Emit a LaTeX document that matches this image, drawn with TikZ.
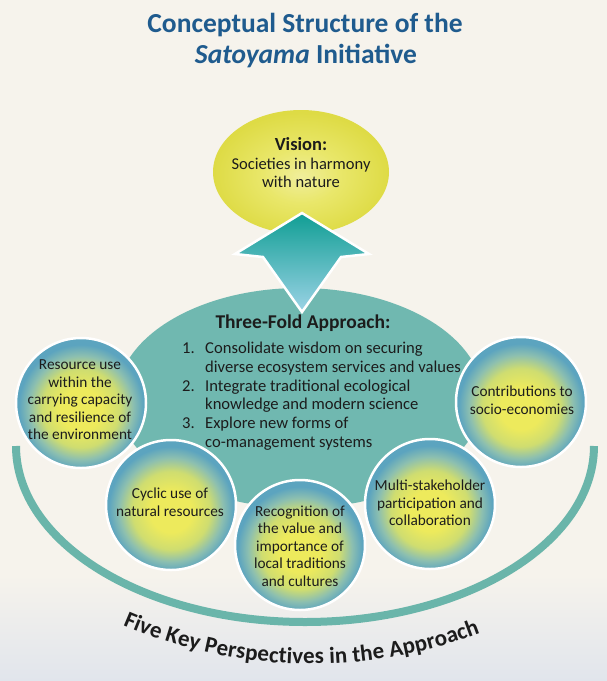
\documentclass[tikz,border=0pt]{standalone}
\usepackage{fontspec}
\setmainfont{Carlito}
\usetikzlibrary{decorations.text,shapes.geometric}

\definecolor{bgbeige}{HTML}{F6F3EC}
\definecolor{bgmid}{HTML}{EEEFF0}
\definecolor{bggray}{HTML}{E1E5EC}
\definecolor{titleblue}{HTML}{1F5B8E}
\definecolor{txt}{HTML}{1C1C1C}
\definecolor{teal}{HTML}{70B8B0}
\definecolor{arcteal}{HTML}{6AB5AA}
\definecolor{arrtop}{HTML}{109E94}
\definecolor{arrbot}{HTML}{9CD3E6}
\definecolor{ballA}{HTML}{EDEA5C}
\definecolor{ballB}{HTML}{CFDD70}
\definecolor{ballC}{HTML}{8CBFB0}
\definecolor{ballD}{HTML}{5CA4BF}
\definecolor{visA}{HTML}{F0EE9C}
\definecolor{visB}{HTML}{E9E76A}
\definecolor{visC}{HTML}{DEDB45}

\pgfdeclareradialshading{ballshade}{\pgfpoint{0bp}{-3bp}}{%
  color(0bp)=(ballA); color(8bp)=(ballA); color(15bp)=(ballB);
  color(20bp)=(ballC); color(24bp)=(ballD); color(25bp)=(ballD); color(50bp)=(ballD)}
\pgfdeclareradialshading{visshade}{\pgfpoint{0bp}{-2bp}}{%
  color(0bp)=(visA); color(11bp)=(visB); color(25bp)=(visC); color(50bp)=(visC)}

\tikzset{
  x=1pt, y=-1pt,
  ball/.style={circle, minimum size=130pt, inner sep=0pt, shading=ballshade,
    draw=white, line width=2.5pt},
  balltext/.style={align=center, text=txt, inner sep=0pt,
    font=\fontsize{15.3}{17.5}\selectfont},
  titletext/.style={anchor=base, text=titleblue, inner sep=0pt,
    font=\fontsize{27.5}{30}\selectfont\bfseries},
  listtext/.style={anchor=base west, text=txt, inner sep=0pt,
    font=\fontsize{16.6}{19}\selectfont},
}

\begin{document}
\begin{tikzpicture}
\useasboundingbox (0,0) rectangle (607,681);
% background
\fill[bgbeige] (0,0) rectangle (607,681);
\shade[top color=bgbeige, middle color=bgmid, bottom color=bggray] (0,575) rectangle (607,681);

% big U arc
\draw[arcteal, line width=8pt] (16,446) arc[start angle=180, end angle=0, x radius=289, y radius=176];

% curved caption
\path[decorate, decoration={text along path, text color=txt,
    text={|\fontsize{23}{23}\selectfont\bfseries|Five Key Perspectives in the Approach},
    text align={fit to path}}]
  (311,190) ++(113.4:474) arc[start angle=113.4, end angle=69.1, radius=474];

% title
\node[titletext] (t1) at (305,32) {Conceptual Structure of the};
\node[titletext] (t2) at (306,63) {\textit{Satoyama} Initiative};

% three-fold ellipse
\node[ellipse, fill=teal, minimum width=366pt, minimum height=220pt, inner sep=0pt] (tf) at (300,398) {};

% vision ellipse
\node[ellipse, shading=visshade, minimum width=176pt, minimum height=124pt, inner sep=0pt] (vis) at (301,172) {};
\node[anchor=base, text=txt, inner sep=0pt, font=\fontsize{18.5}{20}\selectfont\bfseries] (vt) at (301,150) {Vision:};
\node[anchor=base, text=txt, inner sep=0pt, font=\fontsize{16.5}{18}\selectfont] (v1) at (301,169) {Societies in harmony};
\node[anchor=base, text=txt, inner sep=0pt, font=\fontsize{16.5}{18}\selectfont] (v2) at (301,187) {with nature};

% arrow
\shade[top color=arrtop, bottom color=arrbot, draw=white, line width=2.5pt, line join=miter]
  (302,213) -- (369,254) -- (341,257) -- (302,312) -- (263,257) -- (235,254) -- cycle;

% three-fold text
\node[anchor=base, text=txt, inner sep=0pt, font=\fontsize{19.5}{22}\selectfont\bfseries] (tft) at (303,328) {Three-Fold Approach:};
\node[listtext] (n1) at (182,353) {1.};
\node[listtext] (l1) at (205,353) {Consolidate wisdom on securing};
\node[listtext] (l2) at (205,372) {diverse ecosystem services and values};
\node[listtext] (n2) at (182,391) {2.};
\node[listtext] (l3) at (205,391) {Integrate traditional ecological};
\node[listtext] (l4) at (205,409) {knowledge and modern science};
\node[listtext] (n3) at (182,428) {3.};
\node[listtext] (l5) at (205,428) {Explore new forms of};
\node[listtext] (l6) at (205,447) {co-management systems};

% five circles
\node[ball] (c1) at (81,403) {};
\node[ball] (c5) at (521,402) {};
\node[ball] (c2) at (171,505) {};
\node[ball] (c4) at (430,504) {};
\node[ball] (c3) at (300,545) {};

\node[balltext] (c1t) at (80,400) {Resource use\\within the\\carrying capacity\\and resilience of\\the environment};
\node[balltext] (c2t) at (170,502) {Cyclic use of\\natural resources};
\node[balltext] (c3t) at (300,546) {Recognition of\\the value and\\importance of\\local traditions\\and cultures};
\node[balltext] (c4t) at (430,503) {Multi-stakeholder\\participation and\\collaboration};
\node[balltext] (c5t) at (522,400) {Contributions to\\socio-economies};
\end{tikzpicture}
\end{document}
